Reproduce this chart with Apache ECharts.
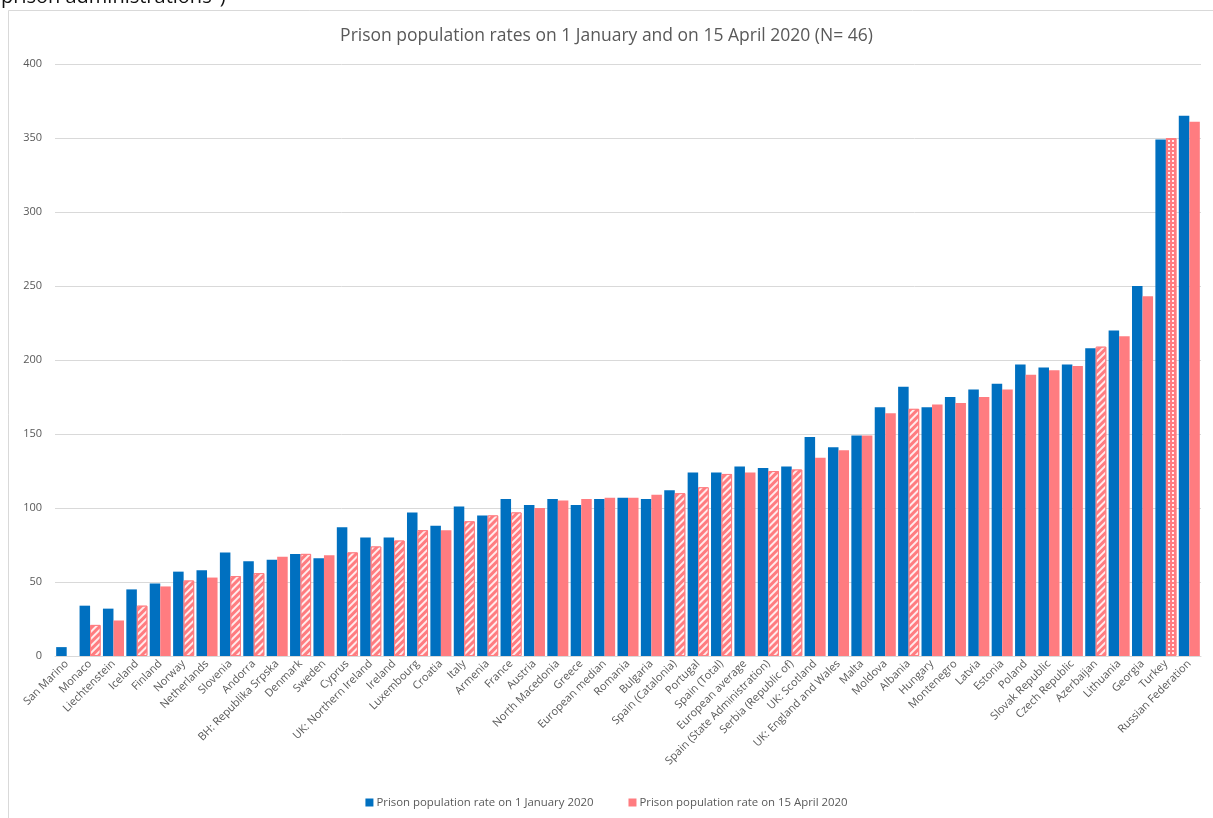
<!DOCTYPE html>
<html>
<head>
<meta charset="utf-8">
<script src="https://cdn.jsdelivr.net/npm/echarts@6/dist/echarts.min.js"></script>
<style>
html,body{margin:0;padding:0;background:#fff;}
#chart{width:1213px;height:818px;}
</style>
</head>
<body>
<div id="chart"></div>
<script>
const categories = ["San Marino","Monaco","Liechtenstein","Iceland","Finland","Norway","Netherlands","Slovenia","Andorra","BH: Republika Srpska","Denmark","Sweden","Cyprus","UK: Northern Ireland","Ireland","Luxembourg","Croatia","Italy","Armenia","France","Austria","North Macedonia","Greece","European median","Romania","Bulgaria","Spain (Catalonia)","Portugal","Spain (Total)","European average","Spain (State Administration)","Serbia (Republic of)","UK: Scotland","UK: England and Wales","Malta","Moldova","Albania","Hungary","Montenegro","Latvia","Estonia","Poland","Slovak Republic","Czech Republic","Azerbaijan","Lithuania","Georgia","Turkey","Russian Federation"];

const january = [6,34,32,45,49,57,58,70,64,65,69,66,87,80,80,97,88,101,95,106,102,106,102,106,107,106,112,124,124,128,127,128,148,141,149,168,182,168,175,180,184,197,195,197,208,220,250,349,365];

const april = [null,21,24,34,47,51,53,54,56,67,69,68,70,74,78,85,85,91,95,97,100,105,106,107,107,109,110,114,123,124,125,126,134,139,149,164,167,170,171,175,180,190,193,196,209,216,243,350,361];

// pattern of the April bar in the source: '' solid, 'h' hatched, 'd' dotted
const aprilPattern = ['','h','','h','','h','','h','h','','h','','h','h','h','h','','h','h','h','','','','','','','h','h','h','','h','h','','','','','h','','','','','','','','h','','','d',''];

const seriesNames = ["Prison population rate on 1 January 2020","Prison population rate on 15 April 2020"];
const yTicks = {min:0, max:400, interval:50};

const BLUE = '#0070C0';
const PINK = '#FF7C80';
const FONT = "'Open Sans', sans-serif";

const hatchDecal = {symbol:'rect', symbolSize:1, color:'rgba(255,255,255,0.85)', dashArrayX:[1,0], dashArrayY:[2,2.5], rotation:-Math.PI/4};
const dotDecal = {symbol:'rect', symbolSize:1, color:'rgba(255,255,255,0.85)', dashArrayX:[2,1.5], dashArrayY:[2,2], rotation:0};

const aprilData = april.map((v,i)=>{
  const p = aprilPattern[i];
  if (p === 'h') return {value:v, itemStyle:{decal:hatchDecal, borderColor:PINK, borderWidth:1}};
  if (p === 'd') return {value:v, itemStyle:{decal:dotDecal, borderColor:PINK, borderWidth:1}};
  return {value:v};
});

const chart = echarts.init(document.getElementById('chart'), null, {renderer:'canvas'});
chart.setOption({
  animation:false,
  backgroundColor:'#fff',
  title:{
    text:'Prison population rates on 1 January and on 15 April 2020 (N= 46)',
    left:'center', top:22,
    textStyle:{fontFamily:FONT, fontSize:17.5, fontWeight:'normal', color:'#595959'}
  },
  graphic:[
    {type:'rect', shape:{x:8.5, y:10.5, width:1300, height:900}, style:{fill:'none', stroke:'#d9d9d9', lineWidth:1}, silent:true},
    {type:'text', left:1, top:-13, style:{text:'prison administrations")', font:"20px 'Open Sans', sans-serif", fill:'#111'}, silent:true}
  ],
  legend:{
    bottom:5, left:'center',
    itemWidth:8, itemHeight:8, itemGap:35,
    icon:'rect',
    textStyle:{fontFamily:FONT, fontSize:11.4, color:'#595959', padding:[0,0,0,-2]},
    data:seriesNames
  },
  grid:{left:55, right:12, top:64, bottom:162, containLabel:false},
  xAxis:{
    type:'category', data:categories,
    axisLine:{lineStyle:{color:'#d9d9d9'}},
    axisTick:{show:false},
    axisLabel:{interval:0, rotate:45, margin:6, fontFamily:FONT, fontSize:11, color:'#595959'}
  },
  yAxis:{
    type:'value', min:yTicks.min, max:yTicks.max, interval:yTicks.interval,
    axisLine:{show:false}, axisTick:{show:false},
    splitLine:{lineStyle:{color:'#d9d9d9'}},
    axisLabel:{margin:13, fontFamily:FONT, fontSize:11, color:'#595959'}
  },
  series:[
    {name:seriesNames[0], type:'bar', data:january, itemStyle:{color:BLUE}, barGap:'0%', barCategoryGap:'10%'},
    {name:seriesNames[1], type:'bar', data:aprilData, itemStyle:{color:PINK}, barGap:'0%', barCategoryGap:'10%'}
  ]
});
</script>
</body>
</html>
